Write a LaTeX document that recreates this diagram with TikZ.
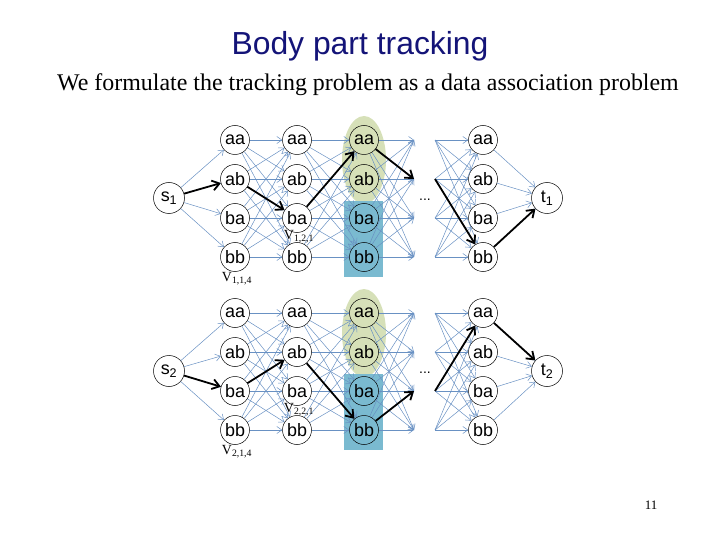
\documentclass[tikz,border=0pt]{standalone}
\usepackage{fontspec}
\setmainfont{Liberation Serif}
\newfontfamily\arialfont{Liberation Sans}
\usetikzlibrary{arrows.meta}
\definecolor{titleblue}{RGB}{20,20,120}
\definecolor{edgeblue}{RGB}{105,145,195}
\definecolor{leafgreen}{RGB}{214,224,184}
\definecolor{boxblue}{RGB}{122,186,208}
\tikzset{
  part/.style={draw,circle,line width=0.5bp,minimum size=29bp,inner sep=0pt,font=\arialfont\fontsize{18}{18}\selectfont},
  endpart/.style={part,minimum size=31bp},
  link/.style={edgeblue,line width=0.5bp,-{Straight Barb[length=5bp,width=7bp]}},
  trackpath/.style={black,line width=1.8bp,-{Straight Barb[length=7bp,width=10bp]}},
  vlabel/.style={font=\fontsize{14}{14}\selectfont,inner sep=1bp},
}

\begin{document}
\begin{tikzpicture}[x=1bp,y=-1bp]
    \useasboundingbox (0,0) rectangle (720,540);
    \node[titleblue,font=\arialfont\fontsize{32}{32}\selectfont] (title) at (360,46) {Body part tracking};
    \node[font=\fontsize{24}{24}\selectfont] (intro) at (368,85) {We formulate the tracking problem as a data association problem};
    \node[font=\fontsize{13}{13}\selectfont] (page) at (651,505) {11};

    % two trellises, one per person
    \foreach \p/\dy in {1/0,2/173}{
        \fill[leafgreen] (364,160+\dy) ellipse (22 and 44);
        \fill[boxblue] (344,201+\dy) rectangle (383,277+\dy);
        \node[endpart] (s\p) at (169,198+\dy) {s\textsubscript{\p}};
        \node[endpart] (t\p) at (547,198+\dy) {t\textsubscript{\p}};
        \foreach \lab/\y in {aa/140,ab/179,ba/218,bb/257}{
            \foreach \c/\x in {1/235,2/297,3/364,4/483}
                \node[part] (p\p c\c\lab) at (\x,\y+\dy) {\lab};
            \coordinate (p\p l\lab) at (414,\y+\dy);
            \coordinate (p\p r\lab) at (435,\y+\dy);
        }
        \foreach \a in {aa,ab,ba,bb}{
            \draw[link] (s\p) -- (p\p c1\a);
            \draw[link] (p\p c4\a) -- (t\p);
            \foreach \b in {aa,ab,ba,bb}{
                \draw[link] (p\p c1\a) -- (p\p c2\b);
                \draw[link] (p\p c2\a) -- (p\p c3\b);
                \draw[link] (p\p c3\a) -- (p\p l\b);
                \draw[link] (p\p r\a) -- (p\p c4\b);
            }
        }
        \node[font=\arialfont\fontsize{14}{14}\selectfont] (dots\p) at (425,200+\dy) {...};
        \node[vlabel] (va\p) at (237,279+\dy) {V\textsubscript{\p,1,4}};
        \node[vlabel] (vb\p) at (299,237+\dy) {V\textsubscript{\p,2,1}};
    }

    % chosen association, person 1
    \draw[trackpath] (s1) -- (p1c1ab);
    \draw[trackpath] (p1c1ab) -- (p1c2ba);
    \draw[trackpath] (p1c2ba) -- (p1c3aa);
    \draw[trackpath] (p1c3aa) -- (p1lab);
    \draw[trackpath] (p1rab) -- (p1c4bb);
    \draw[trackpath] (p1c4bb) -- (t1);

    % chosen association, person 2
    \draw[trackpath] (s2) -- (p2c1ba);
    \draw[trackpath] (p2c1ba) -- (p2c2ab);
    \draw[trackpath] (p2c2ab) -- (p2c3bb);
    \draw[trackpath] (p2c3bb) -- (p2lba);
    \draw[trackpath] (p2rba) -- (p2c4aa);
    \draw[trackpath] (p2c4aa) -- (t2);
\end{tikzpicture}
\end{document}
